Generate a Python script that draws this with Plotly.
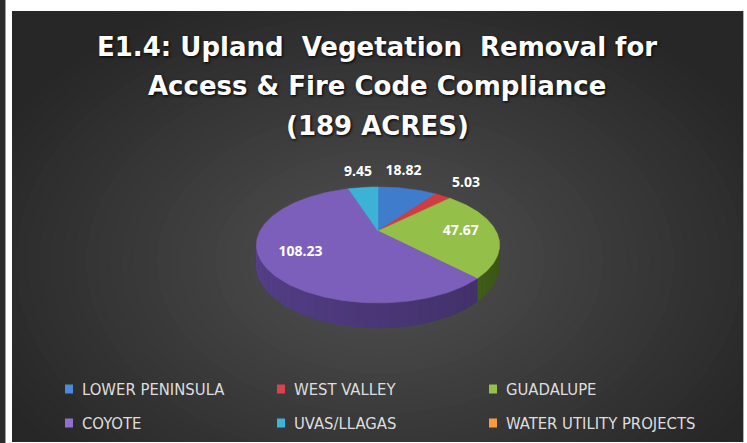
import numpy as np
import plotly.graph_objects as go

# ---------------- data ----------------
categories = ["LOWER PENINSULA", "WEST VALLEY", "GUADALUPE",
              "COYOTE", "UVAS/LLAGAS", "WATER UTILITY PROJECTS"]
acres = [18.82, 5.03, 47.67, 108.23, 9.45, 0.0]
title_lines = ["E1.4: Upland\u00a0\u00a0Vegetation\u00a0\u00a0Removal for",
               "Access & Fire Code Compliance",
               "(189 ACRES)"]

# ---------------- styles ----------------
top_colors = ["#3f7dcc", "#d03c42", "#94c049", "#7c5fba", "#3cb2d6", "#f79646"]
side_colors = ["#2c5a96", "#962a2f", "#54791f", "#56408a", "#2a819c", "#b86d2f"]
legend_colors = ["#4a8bdc", "#d9434b", "#93c24a", "#9070cc", "#3db4d8", "#f79a42"]

W, H = 747, 443
PX0, PX1, PY0, PY1 = 12, 743, 11, 442          # dark panel in pixels
CX, CY = 378, 231                               # projected pie centre
SX, SY, K, DEPTH = 118, 54.6, 0.241, 19         # perspective ellipse params
TITLE_FONT = "DejaVu Sans, Open Sans, sans-serif"
LABEL_FONT = "Open Sans, Noto Sans, sans-serif"
NARROW = "DejaVu Sans Condensed, Liberation Sans Narrow, Roboto, sans-serif"


def proj(theta, r=1.0, depth=0.0):
    X = r * np.sin(theta)
    Z = r * np.cos(theta)
    w = 1 + K * Z
    return CX + SX * X / w, CY - SY * Z / w + depth / w


def hex2rgb(h):
    h = h.lstrip("#")
    return [int(h[i:i + 2], 16) for i in (0, 2, 4)]


def shade(h, f):
    r, g, b = hex2rgb(h)
    return "rgb(%d,%d,%d)" % (min(255, r * f), min(255, g * f), min(255, b * f))


fig = go.Figure()

# ---------- background radial gradient (clipped to axes) ----------
shapes = []
gcx, gcy, asp = 380, 262, 0.68
dmax, n = 470, 40
c_in, c_out = 0x52, 0x27
for i in range(n):
    d = dmax * (1 - i / n)
    t = min(d / 430, 1.0)
    c = int(round(c_in + (c_out - c_in) * t))
    shapes.append(dict(type="circle", xref="x", yref="y", layer="below",
                       x0=gcx - d, x1=gcx + d, y0=gcy - asp * d, y1=gcy + asp * d,
                       fillcolor="rgb(%d,%d,%d)" % (c, c, c), line=dict(width=0)))


def px_to_paper_x(p):
    return (p - PX0) / (PX1 - PX0)


def py_to_paper_y(p):
    return 1 - (p - PY0) / (PY1 - PY0)


# page frame outside the panel
shapes.append(dict(type="rect", xref="paper", yref="paper",
                   x0=px_to_paper_x(0), x1=px_to_paper_x(5),
                   y0=py_to_paper_y(H), y1=py_to_paper_y(0),
                   fillcolor="#2b2b2b", line=dict(width=0)))
shapes.append(dict(type="rect", xref="paper", yref="paper",
                   x0=px_to_paper_x(5), x1=px_to_paper_x(6),
                   y0=py_to_paper_y(H), y1=py_to_paper_y(0),
                   fillcolor="#a0a0a0", line=dict(width=0)))
shapes.append(dict(type="rect", xref="paper", yref="paper",
                   x0=px_to_paper_x(743), x1=px_to_paper_x(744),
                   y0=py_to_paper_y(442), y1=py_to_paper_y(11),
                   fillcolor="#b0b0b0", line=dict(width=0)))

# ---------- pie geometry from data ----------
vals = np.array(acres, dtype=float)
total = vals.sum()
ends = np.cumsum(vals) / total * 2 * np.pi
starts = np.concatenate([[0], ends[:-1]])
th_s = np.arccos(-K)                 # silhouette angle (front visible arc)

# side walls
for i, (a0, a1) in enumerate(zip(starts, ends)):
    if vals[i] <= 0:
        continue
    lo, hi = max(a0, th_s), min(a1, 2 * np.pi - th_s)
    if lo >= hi:
        continue
    nseg = max(1, int(np.ceil((hi - lo) / np.radians(4))))
    edges = np.linspace(lo, hi, nseg + 1)
    for j in range(nseg):
        th = np.linspace(edges[j], edges[j + 1], 6)
        xt, yt = proj(th)
        xb, yb = proj(th[::-1], depth=DEPTH)
        mid = 0.5 * (edges[j] + edges[j + 1])
        f = 0.70 + 0.32 * (mid - th_s) / (2 * np.pi - 2 * th_s)
        col = shade(side_colors[i], f)
        fig.add_trace(go.Scatter(
            x=np.concatenate([xt, xb, xt[:1]]), y=np.concatenate([yt, yb, yt[:1]]),
            mode="lines", fill="toself", fillcolor=col,
            line=dict(color=col, width=0.8), hoverinfo="skip", showlegend=False))

# top faces
for i, (a0, a1) in enumerate(zip(starts, ends)):
    if vals[i] <= 0:
        continue
    th = np.linspace(a0, a1, max(4, int(np.degrees(a1 - a0))))
    xa, ya = proj(th)
    x = np.concatenate([[CX], xa, [CX]])
    y = np.concatenate([[CY], ya, [CY]])
    fig.add_trace(go.Scatter(
        x=x, y=y, mode="lines", fill="toself", fillcolor=top_colors[i],
        line=dict(color=top_colors[i], width=0.6), name=categories[i],
        hoverinfo="skip", showlegend=False))

# data labels
label_nudge = {"LOWER PENINSULA": (-14, -3)}
lx, ly, lt = [], [], []
for i, (a0, a1) in enumerate(zip(starts, ends)):
    if vals[i] <= 0:
        continue
    mid = 0.5 * (a0 + a1)
    r = 0.7 if vals[i] / total > 0.15 else 1.45
    x, y = proj(mid, r=r)
    dx, dy = label_nudge.get(categories[i], (0, 0))
    lx.append(x + dx)
    ly.append(y + dy)
    lt.append("%.2f" % vals[i])
fig.add_trace(go.Scatter(x=lx, y=ly, text=lt, mode="text",
                         textfont=dict(family=LABEL_FONT, size=14, color="white",
                                       weight="bold"),
                         textposition="middle center", hoverinfo="skip",
                         showlegend=False))

# ---------- title ----------
annotations = []
for k, (line, yy) in enumerate(zip(title_lines, [47, 86, 126])):
    annotations.append(dict(x=377, y=yy, xref="x", yref="y", text="<b>%s</b>" % line,
                            showarrow=False, xanchor="center", yanchor="middle",
                            font=dict(family=TITLE_FONT, size=26, color="white",
                                      shadow="1px 1px 3px #000")))

# ---------- legend ----------
col_x = [65, 277, 489]
row_y = [389, 423]
for i, name in enumerate(categories):
    cx = col_x[i % 3]
    cy = row_y[i // 3]
    shapes.append(dict(type="rect", xref="x", yref="y", x0=cx, x1=cx + 8,
                       y0=cy - 4.5, y1=cy + 4.5, fillcolor=legend_colors[i],
                       line=dict(width=0)))
    annotations.append(dict(x=cx + 15, y=cy, xref="x", yref="y", text=name,
                            showarrow=False, xanchor="left", yanchor="middle",
                            font=dict(family=NARROW, size=16.5, color="#dedede")))

fig.update_layout(
    width=W, height=H, autosize=False,
    margin=dict(l=PX0, r=W - PX1, t=PY0, b=H - PY1, pad=0),
    paper_bgcolor="white", plot_bgcolor="#272727",
    xaxis=dict(range=[PX0, PX1], visible=False, fixedrange=True),
    yaxis=dict(range=[PY1, PY0], visible=False, fixedrange=True),
    shapes=shapes, annotations=annotations, showlegend=False,
)

fig.write_html("out.html", config={"displayModeBar": False},
               post_script="document.body.style.margin='0';"
                           "document.body.style.overflow='hidden';")
